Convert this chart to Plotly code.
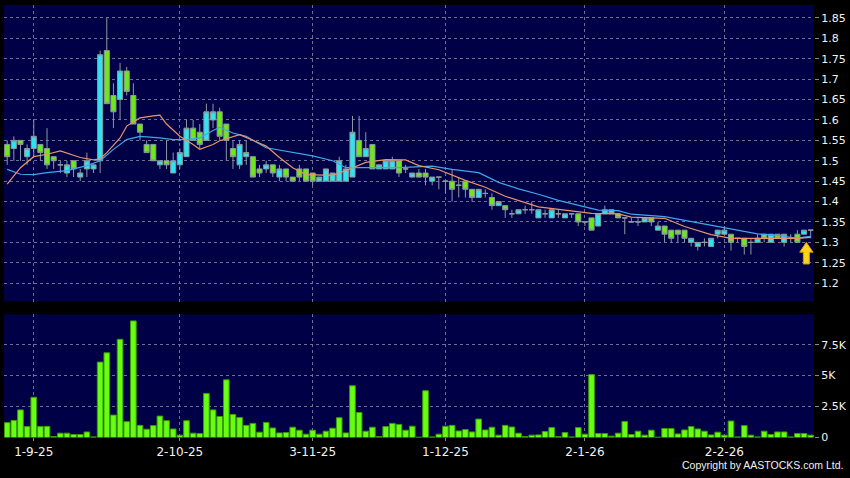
import plotly.graph_objects as go

# ---------------- data ----------------
opens = [1.54,1.53,1.55,1.51,1.53,1.54,1.53,1.51,1.49,1.47,1.50,1.46,1.48,1.48,1.50,1.77,1.66,1.65,1.72,1.66,
         1.59,1.54,1.54,1.49,1.50,1.47,1.49,1.51,1.58,1.57,1.55,1.60,1.62,1.59,1.53,1.49,1.51,1.51,1.48,1.48,
         1.49,1.46,1.48,1.46,1.48,1.48,1.47,1.45,1.45,1.45,1.45,1.45,1.46,1.55,1.51,1.54,1.48,1.48,1.48,1.50,
         1.48,1.46,1.47,1.47,1.45,1.46,1.45,1.45,1.44,1.45,1.43,1.41,1.42,1.41,1.39,1.39,1.37,1.37,1.38,1.38,
         1.36,1.37,1.36,1.37,1.36,1.37,1.37,1.35,1.36,1.34,1.37,1.38,1.37,1.36,1.35,1.35,1.35,1.36,1.33,1.34,
         1.33,1.33,1.33,1.30,1.29,1.30,1.29,1.32,1.32,1.32,1.31,1.31,1.30,1.30,1.32,1.30,1.32,1.30,1.31,1.32,
         1.32,1.33]
highs = [1.55,1.56,1.55,1.54,1.60,1.54,1.58,1.51,1.50,1.50,1.50,1.48,1.52,1.49,1.77,1.85,1.69,1.74,1.73,1.69,
         1.59,1.55,1.54,1.50,1.55,1.52,1.53,1.60,1.60,1.59,1.64,1.64,1.63,1.59,1.55,1.55,1.55,1.51,1.49,1.50,
         1.49,1.49,1.48,1.46,1.49,1.48,1.47,1.46,1.48,1.47,1.51,1.49,1.61,1.61,1.57,1.54,1.49,1.50,1.51,1.50,
         1.49,1.47,1.48,1.48,1.46,1.46,1.45,1.48,1.46,1.45,1.43,1.43,1.43,1.42,1.40,1.39,1.38,1.38,1.39,1.40,
         1.38,1.38,1.38,1.38,1.37,1.37,1.37,1.35,1.36,1.37,1.39,1.38,1.37,1.36,1.36,1.36,1.36,1.36,1.35,1.34,
         1.33,1.33,1.33,1.31,1.30,1.31,1.31,1.33,1.34,1.32,1.31,1.31,1.31,1.32,1.32,1.32,1.32,1.32,1.32,1.33,
         1.33,1.33]
lows = [1.49,1.50,1.50,1.49,1.51,1.50,1.48,1.48,1.47,1.46,1.46,1.45,1.46,1.47,1.47,1.64,1.58,1.60,1.66,1.59,
        1.55,1.52,1.50,1.48,1.48,1.47,1.48,1.51,1.55,1.53,1.55,1.58,1.55,1.50,1.48,1.48,1.49,1.46,1.46,1.47,
        1.46,1.45,1.45,1.45,1.45,1.45,1.44,1.45,1.45,1.45,1.45,1.45,1.46,1.51,1.51,1.48,1.48,1.48,1.48,1.46,
        1.47,1.46,1.46,1.44,1.44,1.43,1.42,1.40,1.41,1.41,1.40,1.41,1.41,1.38,1.39,1.36,1.36,1.37,1.37,1.37,
        1.36,1.36,1.36,1.36,1.36,1.36,1.34,1.34,1.33,1.34,1.37,1.37,1.36,1.32,1.35,1.34,1.35,1.34,1.33,1.30,
        1.30,1.30,1.30,1.29,1.28,1.29,1.29,1.31,1.32,1.28,1.30,1.27,1.27,1.30,1.30,1.30,1.31,1.29,1.30,1.30,
        1.32,1.31]
closes = [1.51,1.55,1.54,1.53,1.56,1.52,1.49,1.50,1.49,1.49,1.48,1.47,1.50,1.49,1.76,1.64,1.62,1.72,1.67,1.59,
          1.57,1.52,1.50,1.50,1.49,1.50,1.52,1.58,1.55,1.54,1.62,1.62,1.56,1.55,1.51,1.54,1.52,1.46,1.47,1.49,
          1.47,1.48,1.46,1.45,1.46,1.45,1.45,1.46,1.48,1.47,1.50,1.48,1.57,1.51,1.53,1.48,1.49,1.50,1.50,1.47,
          1.48,1.47,1.46,1.46,1.46,1.46,1.45,1.43,1.44,1.43,1.41,1.43,1.42,1.39,1.40,1.38,1.37,1.38,1.38,1.38,
          1.38,1.37,1.38,1.37,1.37,1.37,1.35,1.35,1.33,1.37,1.38,1.37,1.36,1.36,1.35,1.35,1.36,1.35,1.34,1.32,
          1.31,1.32,1.31,1.31,1.30,1.30,1.31,1.33,1.33,1.30,1.31,1.29,1.30,1.31,1.31,1.32,1.31,1.32,1.31,1.30,
          1.33,1.33]
volumes = [1200,1380,2230,880,3250,880,900,80,350,350,240,240,450,50,6090,6840,1810,7930,1280,9420,
           980,670,960,1730,1360,690,190,1360,350,320,3560,2230,1700,4660,1860,1620,980,1140,430,1220,
           770,370,400,830,590,270,590,270,510,750,1600,370,4180,2020,510,830,80,880,1140,1060,
           590,910,30,3780,50,270,910,980,530,640,450,1490,610,830,190,980,850,350,80,190,
           210,480,800,80,400,50,800,270,5080,320,320,110,350,1300,240,510,190,590,30,720,
           720,290,610,880,690,510,210,430,190,1330,50,960,190,50,510,240,450,450,50,320,
           320,190]

# moving averages (candle index, price)
ma_fast_idx = [0,2,4,6,8,11,13,14,15,17,18,20,22,23,24,26,28,29,31,32,35,39,41,43,45,49,51,54,57,60,62,65,69,72,75,80,84,88,92,94,99,102,106,109,114,119,121]
ma_fast_val = [1.443,1.483,1.51,1.516,1.524,1.508,1.502,1.505,1.52,1.556,1.585,1.605,1.61,1.612,1.59,1.56,1.54,1.528,1.54,1.549,1.564,1.536,1.508,1.483,1.466,1.464,1.476,1.496,1.503,1.502,1.488,1.478,1.452,1.435,1.413,1.387,1.379,1.371,1.37,1.362,1.359,1.339,1.319,1.31,1.31,1.31,1.312]
ma_slow_idx = [0,2,4,6,9,12,14,16,18,20,23,25,27,29,31,32,34,36,39,43,46,49,51,54,59,64,67,71,74,77,80,83,87,89,92,94,99,103,107,110,113,116,119,120,121]
ma_slow_val = [1.479,1.467,1.466,1.471,1.476,1.488,1.50,1.528,1.552,1.56,1.556,1.552,1.552,1.556,1.574,1.582,1.568,1.56,1.532,1.52,1.512,1.50,1.483,1.483,1.483,1.487,1.479,1.471,1.447,1.431,1.418,1.403,1.387,1.379,1.378,1.369,1.363,1.351,1.339,1.331,1.321,1.317,1.31,1.313,1.315]

date_tick_idx = [4, 26, 46, 66, 87, 108]
date_tick_text = ["1-9-25", "2-10-25", "3-11-25", "1-12-25", "2-1-26", "2-2-26"]
price_tick_vals = [1.2,1.25,1.3,1.35,1.4,1.45,1.5,1.55,1.6,1.65,1.7,1.75,1.8,1.85]
price_tick_text = ["1.2","1.25","1.3","1.35","1.4","1.45","1.5","1.55","1.6","1.65","1.7","1.75","1.8","1.85"]
vol_tick_vals = [0, 2500, 5000, 7500]
vol_tick_text = ["0", "2.5K", "5K", "7.5K"]

# ---------------- figure ----------------
W, H = 850, 478
idx = list(range(len(closes)))

FONT = "DejaVu Sans"
GRID = "#6e6e92"
TXT = "#f2f2f2"

fig = go.Figure()

fig.add_trace(go.Scatter(x=ma_slow_idx, y=ma_slow_val, mode="lines",
                         line=dict(color="#3fa6ea", width=1.2), xaxis="x", yaxis="y", hoverinfo="skip"))
fig.add_trace(go.Scatter(x=ma_fast_idx, y=ma_fast_val, mode="lines",
                         line=dict(color="#e8946a", width=1.2), xaxis="x", yaxis="y", hoverinfo="skip"))

fig.add_trace(go.Candlestick(
    x=idx, open=opens, high=highs, low=lows, close=closes,
    increasing=dict(fillcolor="#2ce4f2", line=dict(color="#8a9a9c", width=1)),
    decreasing=dict(fillcolor="#6ee818", line=dict(color="#8a9a9c", width=1)),
    whiskerwidth=0, xaxis="x", yaxis="y"))

fig.add_trace(go.Bar(x=idx, y=volumes, marker=dict(color="#66ff14", line=dict(color="#3d9a00", width=1)),
                     xaxis="x2", yaxis="y2", hoverinfo="skip"))

xr = [-0.48, 121.5]
xdom = [4 / W, 814 / W]

axis_common = dict(showline=False, zeroline=False, gridcolor=GRID, griddash="3px,3px", gridwidth=1)

fig.update_layout(
    width=W, height=H,
    margin=dict(l=0, r=0, t=0, b=0),
    paper_bgcolor="#000000",
    plot_bgcolor="#000046",
    showlegend=False,
    bargap=0.15,
    boxgap=0.1, boxgroupgap=0.15,
    xaxis=dict(domain=xdom, range=xr, anchor="y", tickvals=date_tick_idx, showticklabels=False,
               ticks="", showgrid=True, rangeslider=dict(visible=False), **axis_common),
    xaxis2=dict(domain=xdom, range=xr, anchor="y2", matches="x", tickvals=date_tick_idx,
                ticktext=date_tick_text, ticks="outside", ticklen=3, tickcolor="#888888",
                tickfont=dict(family=FONT, size=12, color=TXT), showgrid=True, **axis_common),
    yaxis=dict(domain=[1 - 306 / H, 1 - 5 / H], range=[1.155, 1.882], side="right", anchor="x",
               tickvals=price_tick_vals, ticktext=price_tick_text, ticks="outside", ticklen=4,
               tickcolor="#888888", tickfont=dict(family=FONT, size=11, color=TXT), showgrid=True, **axis_common),
    yaxis2=dict(domain=[1 - 444 / H, 1 - 319 / H], range=[0, 9950], side="right", anchor="x2",
                tickvals=vol_tick_vals, ticktext=vol_tick_text, ticks="outside", ticklen=4,
                tickcolor="#888888", tickfont=dict(family=FONT, size=11, color=TXT), showgrid=True, **axis_common),
)

# yellow arrow marker under the latest candle
fig.add_shape(type="path", xref="x", yref="y", layer="above",
              path="M 119.9,1.247 L 120.8,1.247 L 120.8,1.276 L 121.35,1.276 L 120.35,1.300 L 119.35,1.276 L 119.9,1.276 Z",
              fillcolor="#ffd21f", line=dict(color="#d99a00", width=1))

fig.add_annotation(text="Copyright by AASTOCKS.com Ltd.", xref="paper", yref="paper",
                   x=845 / W, y=1 - 471.5 / H, xanchor="right", yanchor="middle", showarrow=False,
                   font=dict(family="Liberation Sans", size=10.5, color=TXT))

fig.write_html("out.html", config={"displayModeBar": False},
               post_script="document.body.style.margin='0';document.body.style.background='#000';")
